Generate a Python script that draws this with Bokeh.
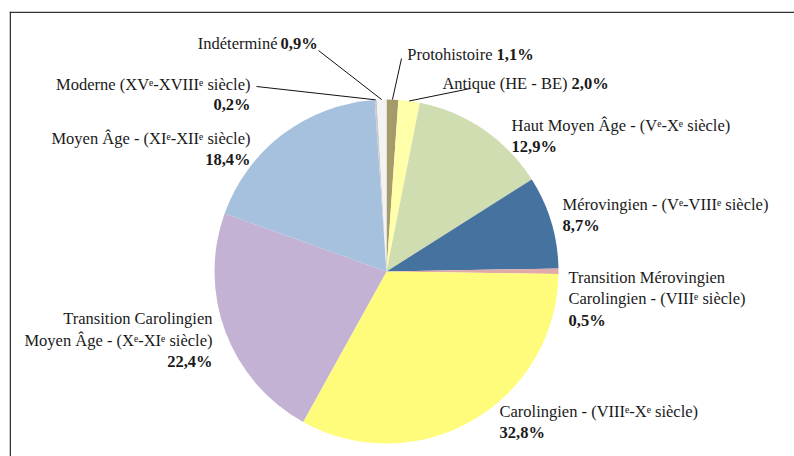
import math
import numpy as np
from bokeh.plotting import figure
from bokeh.models import Range1d, Span, ColumnDataSource
from bokeh.core.properties import value
from bokeh.embed import file_html
from bokeh.resources import INLINE

# ---------------- data ----------------
categories = [
    "Protohistoire",
    "Antique (HE - BE)",
    "Haut Moyen Âge - (Vᵉ-Xᵉ siècle)",
    "Mérovingien - (Vᵉ-VIIIᵉ siècle)",
    "Transition Mérovingien Carolingien - (VIIIᵉ siècle)",
    "Carolingien - (VIIIᵉ-Xᵉ siècle)",
    "Transition Carolingien Moyen Âge - (Xᵉ-XIᵉ siècle)",
    "Moyen Âge - (XIᵉ-XIIᵉ siècle)",
    "Moderne (XVᵉ-XVIIIᵉ siècle)",
    "Indéterminé",
]
percent = [1.1, 2.0, 12.9, 8.7, 0.5, 32.8, 22.4, 18.4, 0.2, 0.9]
percent_labels = ["1,1%", "2,0%", "12,9%", "8,7%", "0,5%", "32,8%", "22,4%", "18,4%", "0,2%", "0,9%"]
colors = ["#A59B6A", "#FFFFAA", "#D0DDB0", "#4672A0", "#E2A9A9",
          "#FFFC7C", "#C3B2D4", "#A6C1DE", "#C9C9C9", "#F3F3F3"]

# ---------------- layout (1 data unit = 1 px, y = -pixel row) ----------------
W, H = 794, 456
LEFT, TOP = 9, 11
CX, CY, R = 386, -271, 172
FONT = value("Liberation Serif")
FS = "16.5px"
INK = "#1a1a1a"

p = figure(width=W, height=H, output_backend="svg", toolbar_location=None,
           x_range=Range1d(LEFT, W), y_range=Range1d(-H, -TOP),
           x_axis_location=None, y_axis_location=None,
           min_border_left=LEFT, min_border_top=TOP, min_border_right=0, min_border_bottom=0)
p.grid.visible = False
p.outline_line_color = None
p.background_fill_color = "white"
p.border_fill_color = "white"

# frame border (top and left only, as in the reference)
p.add_layout(Span(location=LEFT + 0.75, dimension="height", line_color="#333333", line_width=1.5))
p.add_layout(Span(location=-TOP - 0.75, dimension="width", line_color="#333333", line_width=1.5))

# ---------------- pie ----------------
vals = np.array(percent, dtype=float)
frac = vals / vals.sum()
c1 = np.cumsum(frac)
c0 = c1 - frac
start = math.pi / 2 - 2 * math.pi * c0
end = math.pi / 2 - 2 * math.pi * c1
src = ColumnDataSource(dict(start=start, end=end, color=colors, cat=categories))
p.wedge(x=CX, y=CY, radius=R, start_angle="start", end_angle="end",
        direction="clock", fill_color="color", line_color=None, source=src)

# ---------------- leader lines (label anchor -> slice mid edge) ----------------
def edge(i):
    mid = 2 * math.pi * (c0[i] + c1[i]) / 2
    return CX + R * math.sin(mid), CY + R * math.cos(mid)

leader_idx = [9, 0, 1, 8]
leader_from = [(318, -50), (401, -58), (470, -88), (256, -86)]
xs, ys = [], []
for i, (fx, fy) in zip(leader_idx, leader_from):
    ex, ey = edge(i)
    xs.append([fx, ex]); ys.append([fy, ey])
p.multi_line(xs=xs, ys=ys, line_color="#111111", line_width=1)

# ---------------- labels ----------------
# (text, x, pixel-row of text centre, align, bold)
labels = [
    ("Indéterminé", 277, 43, "right", False), (percent_labels[9], 280, 43, "left", True),
    ("Protohistoire", 492, 54, "right", False), (percent_labels[0], 496, 54, "left", True),
    ("Antique (HE - BE)", 567, 83, "right", False), (percent_labels[1], 571, 83, "left", True),
    ("Haut Moyen Âge - (Vᵉ-Xᵉ siècle)", 511, 125, "left", False), (percent_labels[2], 511, 146, "left", True),
    ("Mérovingien - (Vᵉ-VIIIᵉ siècle)", 562, 204, "left", False), (percent_labels[3], 562, 225, "left", True),
    ("Transition Mérovingien", 568, 277, "left", False),
    ("Carolingien - (VIIIᵉ siècle)", 568, 298, "left", False), (percent_labels[4], 568, 320, "left", True),
    ("Carolingien - (VIIIᵉ-Xᵉ siècle)", 499, 411, "left", False), (percent_labels[5], 499, 432, "left", True),
    ("Transition Carolingien", 212, 318, "right", False),
    ("Moyen Âge - (Xᵉ-XIᵉ siècle)", 212, 340, "right", False), (percent_labels[6], 212, 361, "right", True),
    ("Moderne (XVᵉ-XVIIIᵉ siècle)", 250, 84, "right", False), (percent_labels[8], 250, 104, "right", True),
    ("Moyen Âge - (XIᵉ-XIIᵉ siècle)", 250, 138, "right", False), (percent_labels[7], 250, 159, "right", True),
]
for bold in (False, True):
    for align in ("left", "right"):
        sel = [l for l in labels if l[4] == bold and l[3] == align]
        if not sel:
            continue
        p.text(x=[l[1] for l in sel], y=[-l[2] for l in sel], text=[l[0] for l in sel],
               text_font=FONT, text_font_size=FS, text_color=INK,
               text_font_style="bold" if bold else "normal",
               text_align=align, text_baseline="middle")

open("out.html", "w").write(file_html(p, INLINE))
